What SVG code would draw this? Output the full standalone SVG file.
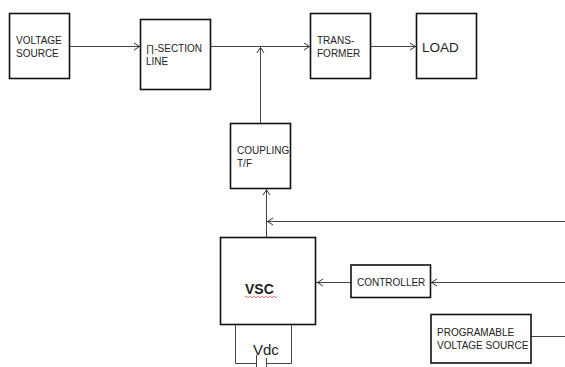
<svg xmlns="http://www.w3.org/2000/svg" width="565" height="367" viewBox="0 0 565 367">
<style>
.b{fill:#fff;stroke:#111;stroke-width:1.6}
.c{fill:none;stroke:#444;stroke-width:1}
.a{fill:none;stroke:#333;stroke-width:1}
text{font-family:"Liberation Sans",Arial,sans-serif;fill:#222;font-size:10px}
</style>
<rect width="565" height="367" fill="#fff"/>
<g id="connectors">
<path class="c" d="M70 46.500H140M211 46.500H310M371 46.500H416M260.500 47V123M266.500 189V238M266 221.500H565M316 282.500H351M430 282.500H565M531 336.500H565"/>
<path class="c" d="M235.500 325V363.500H256.500M291.500 325V363.500H266.500M256.500 355V367M266.500 358V367"/>
<path class="a" d="M134 43L139.500 46.500L134 50M304 43L309.500 46.500L304 50M410 43L415.500 46.500L410 50M257 53L260.500 47.500L264 53M263 195L266.500 190L270 195M273 218L267.500 221.500L273 225M323 279L317.500 282.500L323 286M437 279L431.500 282.500L437 286"/>
</g>
<g id="voltage-source"><rect class="b" x="9.500" y="13.500" width="60" height="65"/><text x="16" y="44">VOLTAGE</text><text x="16" y="57">SOURCE</text></g>
<g id="pi-section-line"><rect class="b" x="140.500" y="19.500" width="70" height="70"/><text x="146" y="52">∏-SECTION</text><text x="146" y="65">LINE</text></g>
<g id="transformer"><rect class="b" x="310.500" y="13.500" width="60" height="65"/><text x="317" y="44">TRANS-</text><text x="317" y="57">FORMER</text></g>
<g id="load"><rect class="b" x="416.500" y="13.500" width="60" height="65"/><text x="422" y="52" style="font-size:13.500px">LOAD</text></g>
<g id="coupling"><rect class="b" x="230.500" y="123.500" width="60" height="65"/><text x="237" y="154">COUPLING</text><text x="237" y="167">T/F</text></g>
<g id="vsc"><rect class="b" x="220.500" y="237.500" width="95" height="87"/><text x="245" y="294" style="font-size:14px;font-weight:bold">VSC</text><path d="M245 297q1-1.500 2 0t2 0t2 0t2 0t2 0t2 0t2 0t2 0t2 0t2 0t2 0t2 0t2 0t2 0t2 0t2 0" fill="none" stroke="#d33" stroke-width=".7"/></g>
<g id="vdc"><text x="253" y="355" style="font-size:15px">Vdc</text></g>
<g id="controller"><rect class="b" x="351" y="265" width="79.500" height="32.500"/><text x="357" y="286">CONTROLLER</text></g>
<g id="programable"><rect class="b" x="431" y="314.500" width="100" height="48.500"/><text x="437" y="336">PROGRAMABLE</text><text x="437" y="349">VOLTAGE SOURCE</text></g>
</svg>
